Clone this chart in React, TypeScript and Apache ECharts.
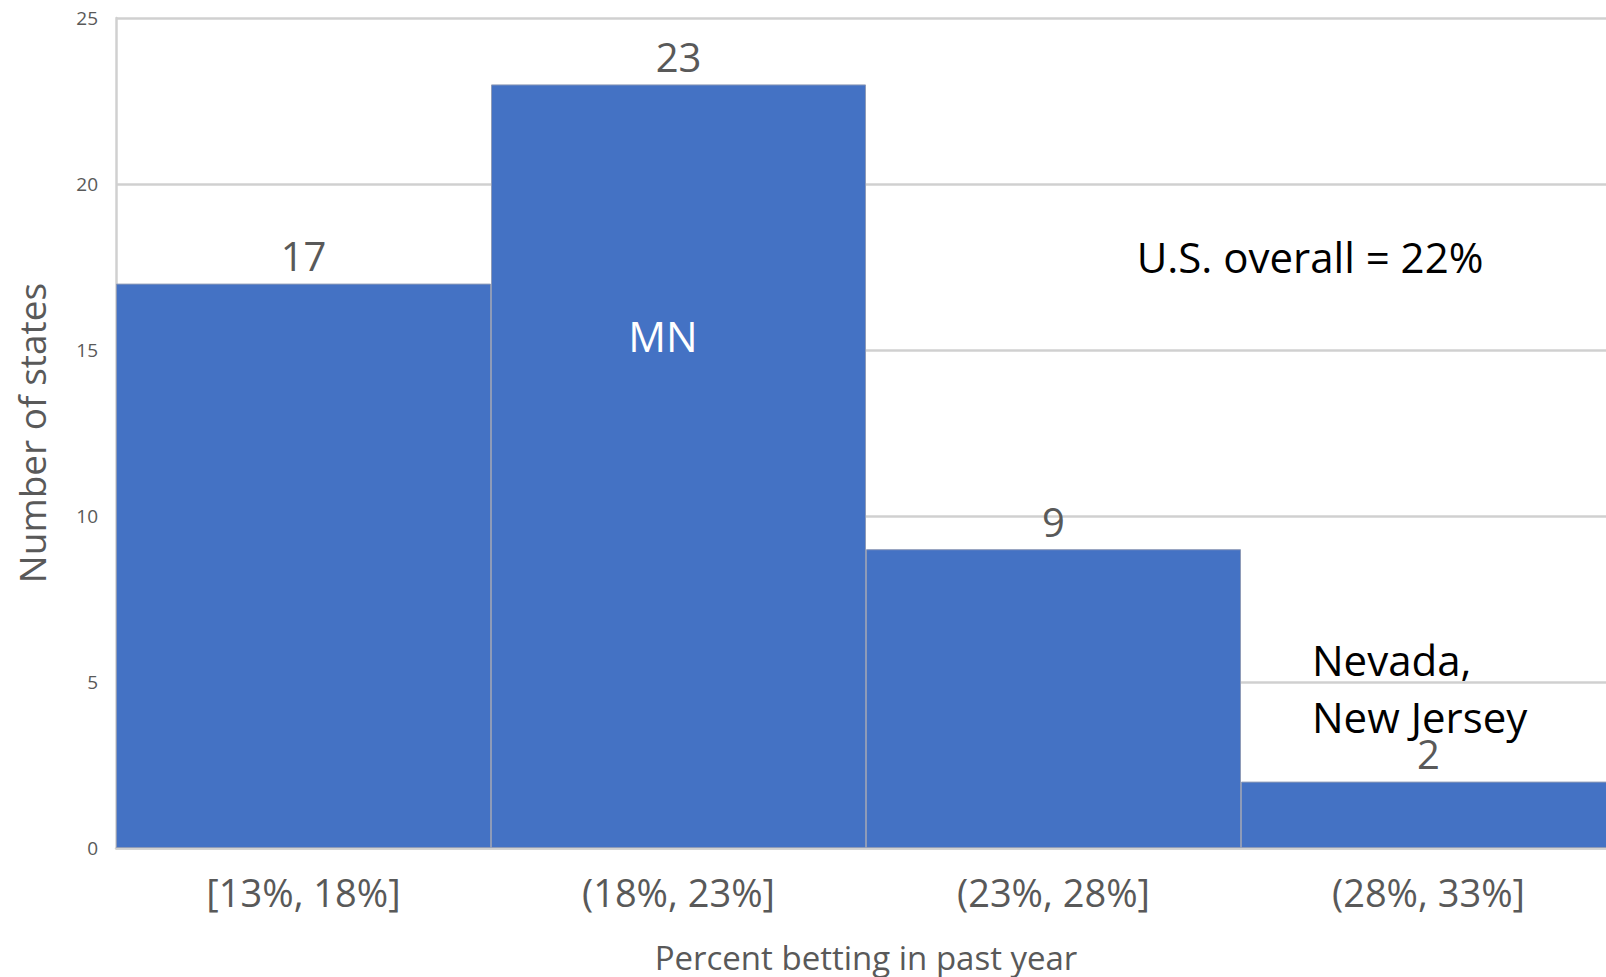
import React, { useEffect, useRef } from "react";
import * as echarts from "echarts";

const categories = ["[13%, 18%]", "(18%, 23%]", "(23%, 28%]", "(28%, 33%]"];
const stateCounts = [17, 23, 9, 2];
const yTicks = { min: 0, max: 25, interval: 5 };
const xTitle = "Percent betting in past year";
const yTitle = "Number of states";
const notes = {
  overall: "U.S. overall = 22%",
  mn: "MN",
  top: "Nevada,\nNew Jersey",
};

const FONT = "'Open Sans', 'Noto Sans', sans-serif";
const GRAY = "#595959";

export default function App() {
  const ref = useRef<HTMLDivElement>(null);
  useEffect(() => {
    if (!ref.current) return;
    const chart = echarts.init(ref.current, undefined, { renderer: "svg" });
    chart.setOption({
      animation: false,
      backgroundColor: "#ffffff",
      textStyle: { fontFamily: FONT },
      grid: {
        left: 116,
        top: 18,
        width: 1500,
        height: 830,
        containLabel: false,
        outerBoundsMode: "none",
      },
      xAxis: {
        type: "category",
        data: categories,
        axisTick: { show: false },
        axisLine: { lineStyle: { color: "#d0d0d0", width: 2.5 } },
        axisLabel: { fontSize: 38, color: GRAY, margin: 25, fontFamily: FONT },
        name: xTitle,
        nameLocation: "middle",
        nameGap: 92,
        nameTextStyle: { fontSize: 33, lineHeight: 34, color: GRAY, fontFamily: FONT },
      },
      yAxis: {
        type: "value",
        min: yTicks.min,
        max: yTicks.max,
        interval: yTicks.interval,
        axisLine: { show: true, lineStyle: { color: "#d0d0d0", width: 2.5 } },
        axisTick: { show: false },
        splitLine: { lineStyle: { color: "#d0d0d0", width: 2.5 } },
        axisLabel: { fontSize: 19, color: GRAY, margin: 18, fontFamily: FONT },
        name: yTitle,
        nameLocation: "middle",
        nameGap: 66,
        nameTextStyle: { fontSize: 37, color: GRAY, fontFamily: FONT },
      },
      series: [
        {
          type: "bar",
          data: stateCounts,
          barCategoryGap: "0%",
          itemStyle: { color: "#4472C4", borderColor: "#8e9bb8", borderWidth: 1 },
          label: {
            show: true,
            position: "top",
            distance: 8,
            fontSize: 40,
            color: GRAY,
            fontFamily: FONT,
          },
        },
      ],
      graphic: [
        {
          type: "text",
          x: 1310,
          y: 256,
          z: 100,
          style: {
            text: notes.overall,
            fontSize: 42,
            fill: "#000000",
            fontFamily: FONT,
            textAlign: "center",
            textVerticalAlign: "middle",
          },
        },
        {
          type: "text",
          x: 663,
          y: 335,
          z: 100,
          style: {
            text: notes.mn,
            fontSize: 42,
            fill: "#ffffff",
            fontFamily: FONT,
            textAlign: "center",
            textVerticalAlign: "middle",
          },
        },
        {
          type: "text",
          x: 1312,
          y: 688,
          z: 100,
          style: {
            text: notes.top,
            fontSize: 42,
            lineHeight: 57,
            fill: "#000000",
            fontFamily: FONT,
            textAlign: "left",
            textVerticalAlign: "middle",
          },
        },
      ],
    });
    return () => chart.dispose();
  }, []);
  return (
    <div
      ref={ref}
      style={{ position: "fixed", left: 0, top: 0, width: 1606, height: 977, overflow: "hidden" }}
    />
  );
}
